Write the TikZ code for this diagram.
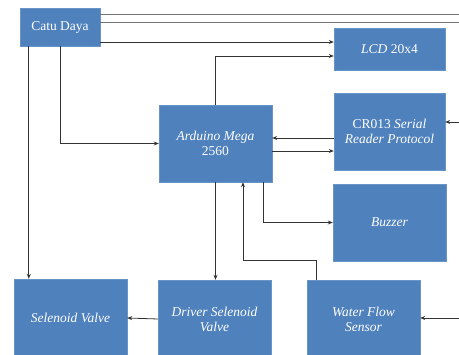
\documentclass[tikz,border=0pt]{standalone}
\usepackage{fontspec}
\setmainfont{Liberation Serif}
\usetikzlibrary{arrows.meta}
\definecolor{boxblue}{HTML}{4F81BD}
\tikzset{
  blok/.style={fill=boxblue,draw=boxblue!85!white,text=white,align=center,
    font=\fontsize{13.5}{15}\selectfont,inner sep=2pt},
  arr/.style={draw=black!80,line width=0.8pt,-{Stealth[length=5pt,width=4pt]}},
  wire/.style={draw=black!55,line width=0.9pt}
}
\begin{document}
\begin{tikzpicture}[x=1pt,y=1pt]
  \useasboundingbox (0,0) rectangle (459,-355);
  % drawing the blocks
  \node[blok,minimum width=80,minimum height=38] (catu) at (60,-27) {Catu Daya};
  \node[blok,minimum width=111,minimum height=42] (lcd) at (389.5,-49) {\textit{LCD} 20x4};
  \node[blok,minimum width=113,minimum height=77] (ard) at (215.5,-143.5) {\textit{Arduino Mega}\\2560};
  \node[blok,minimum width=111,minimum height=77] (cr) at (389.5,-131.5) {CR013 \textit{Serial}\\\textit{Reader Protocol}};
  \node[blok,minimum width=113,minimum height=77] (buz) at (389.5,-222.5) {\textit{Buzzer}};
  \node[blok,minimum width=113,minimum height=78] (sv) at (70.5,-318) {\textit{Selenoid Valve}};
  \node[blok,minimum width=113,minimum height=78] (drv) at (214.5,-319) {\textit{Driver Selenoid}\\\textit{Valve}};
  \node[blok,minimum width=113,minimum height=78] (wfs) at (363.5,-319) {\textit{Water Flow}\\\textit{Sensor}};
  % free ends at the right edge
  \coordinate (r1) at (459,-14.5);
  \coordinate (r2) at (459,-22.5);
  \coordinate (r3) at (459,-122);
  \coordinate (r4) at (459,-318);
  % connecting them
  \foreach \r in {r1,r2} {\draw[wire] (catu.east |- \r) -- (\r);}
  \draw[arr] ([yshift=7pt]lcd.west -| catu.east) -- ([yshift=7pt]lcd.west);
  \draw[arr] (ard.north) |- ([yshift=-7pt]lcd.west);
  \draw[arr] (catu.south) |- (ard.west);
  \coordinate (cs) at ([xshift=9pt]catu.south west);
  \draw[arr] (cs) -- (cs |- sv.north);
  \draw[arr] ([yshift=-6.5pt]cr.west) -- ([yshift=-6.5pt]cr.west -| ard.east);
  \draw[arr] ([yshift=-19.5pt]cr.west -| ard.east) -- ([yshift=-19.5pt]cr.west);
  \draw[arr] (r3) -- (r3 -| cr.east);
  \draw[arr] ([xshift=47.5pt]ard.south) |- (buz.west);
  \draw[arr] (ard.south) -- (ard.south |- drv.north);
  \draw[arr] ([xshift=-47.5pt]wfs.north) -- ++(0,19) -| ([xshift=27.5pt]ard.south);
  \draw[arr] (drv.west) -- (sv.east);
  \draw[arr] (r4) -- (r4 -| wfs.east);
\end{tikzpicture}
\end{document}
